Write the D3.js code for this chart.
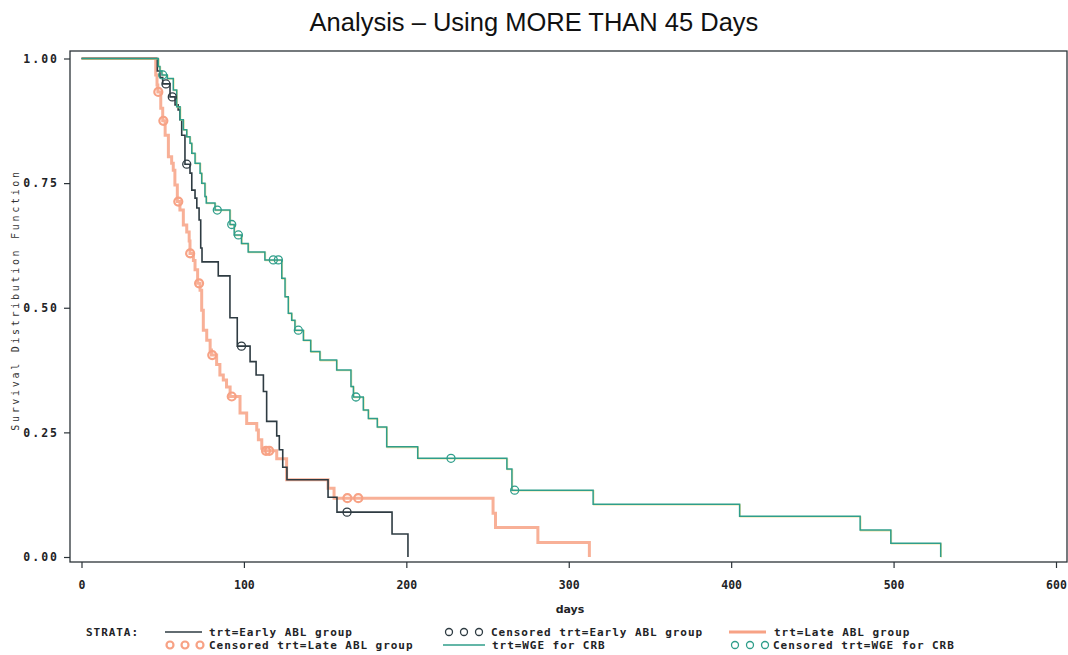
<!DOCTYPE html>
<html>
<head>
<meta charset="utf-8">
<script src="https://cdn.jsdelivr.net/npm/d3@7"></script>
<style>
  body { margin: 0; background: #fff; }
  svg { display: block; }
</style>
</head>
<body>
<div id="chart"></div>
<script>
// step points [days, survival] after each drop
const earlySteps = [[0,1],[46.7,0.975],[48.3,0.962],[50,0.949],[54.5,0.923],[57.6,0.907],[59.5,0.897],[60.6,0.877],[61.7,0.846],[63.7,0.788],[66.8,0.77],[67.9,0.736],[69.9,0.72],[71,0.70],[72.4,0.676],[73.4,0.62],[74.2,0.592],[84.2,0.564],[91.4,0.48],[95.9,0.423],[103.8,0.392],[107.5,0.365],[112,0.332],[114,0.272],[120.2,0.243],[121.8,0.215],[123.9,0.18],[126.5,0.155],[151.8,0.12],[157.3,0.09],[191.2,0.046],[201,0]];
const lateSteps = [[0,1],[45.7,0.967],[46.5,0.947],[47,0.933],[48.8,0.9],[50,0.875],[51.5,0.846],[53.5,0.803],[55.5,0.79],[56.5,0.776],[57.5,0.746],[59,0.713],[60.6,0.696],[62.7,0.666],[64.8,0.652],[66.3,0.634],[66.8,0.609],[68.9,0.595],[69.9,0.576],[71.5,0.549],[73,0.535],[74,0.495],[75,0.455],[77.1,0.435],[79.2,0.415],[80,0.405],[83.2,0.386],[85.2,0.365],[87.3,0.355],[89.3,0.341],[91.5,0.322],[97.6,0.289],[101.7,0.268],[107.9,0.255],[108.9,0.235],[111,0.218],[112.5,0.213],[120.2,0.197],[126.3,0.155],[151.8,0.138],[155.5,0.118],[253.4,0.088],[254.9,0.059],[281,0.029],[312.7,0]];
const wgeSteps = [[0,1],[47.3,0.984],[48.3,0.975],[49.5,0.967],[52.8,0.96],[56.5,0.937],[58.6,0.903],[60.7,0.877],[62.7,0.857],[64.8,0.843],[66.8,0.83],[67.9,0.81],[69.9,0.79],[73,0.77],[74,0.75],[76,0.723],[76.8,0.71],[82.2,0.696],[91.4,0.667],[94,0.646],[98.5,0.629],[102.6,0.612],[112.9,0.596],[123.3,0.559],[125.3,0.522],[127.3,0.489],[129.4,0.475],[131.4,0.455],[136.6,0.435],[141.1,0.412],[146.8,0.395],[157.1,0.375],[165.9,0.342],[167.4,0.321],[173.5,0.295],[176.6,0.278],[182.1,0.261],[187.9,0.221],[207,0.198],[261.9,0.1765],[265,0.134],[315,0.1057],[405.2,0.0816],[479.4,0.054],[498.3,0.0275],[529,0]];

// censoring times (days)
const earlyCens = [52, 55.9, 64.8, 98.5, 163.5];
const lateCens = [47.3, 50.4, 59.6, 66.9, 72.4, 80.5, 92.5, 113.6, 115.6, 163.7, 170.4];
const wgeCens = [50, 83.6, 92.5, 96.6, 118.1, 121.2, 133.5, 169, 227.5, 266.7];

const xTicks = [0, 100, 200, 300, 400, 500, 600];
const yTicks = [0, 0.25, 0.5, 0.75, 1];

const W = 1068, H = 655;
const frame = {left: 70, right: 1067, top: 51, bottom: 562};

const colors = {
  early: '#2e3b42',
  late: '#f7a285',
  wge: '#2f9e8a',
  wgeShadow: '#e6d27a',
};

const svg = d3.select('#chart').append('svg')
  .attr('width', W)
  .attr('height', H);

svg.append('rect').attr('width', W).attr('height', H).attr('fill', '#fff');

const x = d3.scaleLinear().domain([0, 600]).range([81.5, 1056]);
const y = d3.scaleLinear().domain([0, 1]).range([557, 58.5]);

// title
svg.append('text')
  .attr('x', 534)
  .attr('y', 31)
  .attr('text-anchor', 'middle')
  .style('font-family', 'Liberation Sans, Arial, sans-serif')
  .style('font-size', '25.5px')
  .style('fill', '#111')
  .text('Analysis \u2013 Using MORE THAN 45 Days');

// frame
svg.append('rect')
  .attr('x', frame.left)
  .attr('y', frame.top)
  .attr('width', frame.right - frame.left)
  .attr('height', frame.bottom - frame.top)
  .attr('fill', 'none')
  .attr('stroke', '#2b3338')
  .attr('stroke-width', 1.3);

// axes
const yAxis = svg.append('g')
  .attr('transform', `translate(${frame.left},0)`)
  .call(d3.axisLeft(y).tickValues(yTicks).tickFormat(d3.format('.2f')).tickSize(6).tickSizeOuter(0));
yAxis.select('.domain').remove();
yAxis.selectAll('line').attr('stroke', '#2b3338').attr('stroke-width', 1.2);
yAxis.selectAll('text')
  .attr('x', -11)
  .style('font-family', 'DejaVu Sans Mono, monospace')
  .style('font-weight', 'bold')
  .style('font-size', '11.5px')
  .style('letter-spacing', '2px')
  .style('fill', '#1e2326');

const xAxis = svg.append('g')
  .attr('transform', `translate(0,${frame.bottom})`)
  .call(d3.axisBottom(x).tickValues(xTicks).tickFormat(d3.format('d')).tickSize(6).tickSizeOuter(0));
xAxis.select('.domain').remove();
xAxis.selectAll('line').attr('stroke', '#2b3338').attr('stroke-width', 1.2);
xAxis.selectAll('text')
  .attr('y', 19)
  .style('font-family', 'DejaVu Sans Mono, monospace')
  .style('font-weight', 'bold')
  .style('font-size', '11.5px')
  .style('fill', '#1e2326');

// axis titles
svg.append('text')
  .attr('x', 570)
  .attr('y', 613)
  .attr('text-anchor', 'middle')
  .style('font-family', 'DejaVu Sans, sans-serif')
  .style('font-weight', 'bold')
  .style('font-size', '11px')
  .style('fill', '#1e2326')
  .text('days');

svg.append('text')
  .attr('transform', 'translate(19,300) rotate(-90)')
  .attr('text-anchor', 'middle')
  .style('font-family', 'DejaVu Sans Mono, monospace')
  .style('font-size', '10px')
  .style('letter-spacing', '2.7px')
  .style('fill', '#333')
  .text('Survival Distribution Function');

// curves
const line = d3.line()
  .x(d => x(d[0]))
  .y(d => y(d[1]))
  .curve(d3.curveStepAfter);

const survAt = (steps, t) => {
  let s = 1;
  steps.forEach(d => { if (d[0] <= t) s = d[1]; });
  return s;
};

svg.append('path')
  .datum(lateSteps)
  .attr('d', line)
  .attr('fill', 'none')
  .attr('stroke', colors.late)
  .attr('stroke-width', 3)
  .attr('stroke-opacity', 0.85);

svg.append('path')
  .datum(earlySteps)
  .attr('d', line)
  .attr('fill', 'none')
  .attr('stroke', colors.early)
  .attr('stroke-width', 1.6);

svg.append('path')
  .datum(wgeSteps)
  .attr('d', line)
  .attr('transform', 'translate(0.6,0.6)')
  .attr('fill', 'none')
  .attr('stroke', colors.wgeShadow)
  .attr('stroke-width', 1.4)
  .attr('stroke-opacity', 0.7);

svg.append('path')
  .datum(wgeSteps)
  .attr('d', line)
  .attr('fill', 'none')
  .attr('stroke', colors.wge)
  .attr('stroke-width', 1.5);

// censor marks
const marks = (times, steps, color, width, r) => {
  svg.append('g').selectAll('circle')
    .data(times)
    .enter().append('circle')
    .attr('cx', d => x(d))
    .attr('cy', d => y(survAt(steps, d)))
    .attr('r', r)
    .attr('fill', 'none')
    .attr('stroke', color)
    .attr('stroke-width', width);
};
marks(lateCens, lateSteps, colors.late, 2.2, 4);
marks(earlyCens, earlySteps, colors.early, 1.3, 4);
marks(wgeCens, wgeSteps, colors.wge, 1.3, 4);

// legend
const legendFont = g => g
  .style('font-family', 'DejaVu Sans Mono, monospace')
  .style('font-weight', 'bold')
  .style('font-size', '11px')
  .style('letter-spacing', '0.95px')
  .style('fill', '#1e2326');

const row1 = 636, row2 = 649;

svg.append('text').attr('x', 86).attr('y', row1).call(legendFont).text('STRATA:');

const legendLine = (x1, x2, yy, color, w) => {
  svg.append('line')
    .attr('x1', x1).attr('x2', x2)
    .attr('y1', yy).attr('y2', yy)
    .attr('stroke', color)
    .attr('stroke-width', w);
};
const legendCircles = (x0, yy, color, w) => {
  svg.append('g').selectAll('circle')
    .data([0, 1, 2])
    .enter().append('circle')
    .attr('cx', i => x0 + i * 15)
    .attr('cy', yy)
    .attr('r', 3.5)
    .attr('fill', 'none')
    .attr('stroke', color)
    .attr('stroke-width', w);
};

legendLine(165, 202, row1 - 4, colors.early, 1.6);
svg.append('text').attr('x', 209).attr('y', row1).call(legendFont).text('trt=Early ABL group');

legendCircles(170, row2 - 4, colors.late, 2.2);
svg.append('text').attr('x', 209).attr('y', row2).call(legendFont).text('Censored trt=Late ABL group');

legendCircles(449, row1 - 4, colors.early, 1.3);
svg.append('text').attr('x', 491).attr('y', row1).call(legendFont).text('Censored trt=Early ABL group');

legendLine(443, 485, row2 - 4, colors.wge, 1.5);
svg.append('text').attr('x', 492).attr('y', row2).call(legendFont).text('trt=WGE for CRB');

legendLine(729, 766, row1 - 4, colors.late, 3);
svg.append('text').attr('x', 774).attr('y', row1).call(legendFont).text('trt=Late ABL group');

legendCircles(735, row2 - 4, colors.wge, 1.3);
svg.append('text').attr('x', 773).attr('y', row2).call(legendFont).text('Censored trt=WGE for CRB');
</script>
</body>
</html>
